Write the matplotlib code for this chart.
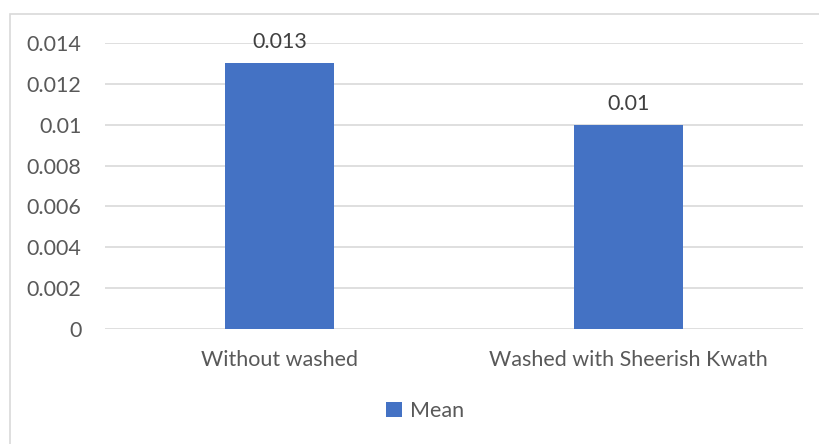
import matplotlib.pyplot as plt
from matplotlib.patches import Rectangle

categories = ['Without washed', 'Washed with Sheerish Kwath']
mean_values = [0.013, 0.01]
value_labels = ['0.013', '0.01']
y_ticks = [0, 0.002, 0.004, 0.006, 0.008, 0.01, 0.012, 0.014]
y_tick_labels = ['0', '0.002', '0.004', '0.006', '0.008', '0.01', '0.012', '0.014']

bar_color = '#4472c4'
text_color = '#595959'
grid_color = '#d9d9d9'
fs = 15.5

plt.rcParams['font.family'] = ['Lato', 'DejaVu Sans']

fig = plt.figure(figsize=(8.19, 4.44), dpi=100)
# chart border, only top and left edges fall inside the image
fig.patches.append(Rectangle((10 / 819, -0.1), 1.2, 1.1 - 14 / 444,
                             transform=fig.transFigure, fill=False,
                             edgecolor=grid_color, linewidth=1.2))

ax = fig.add_axes([105 / 819, 1 - 329 / 444, 698 / 819, 286 / 444])
x = range(len(categories))
bars = ax.bar(x, mean_values, width=0.312, color=bar_color, label='Mean', zorder=3)

for b, lab in zip(bars, value_labels):
    ax.annotate(lab, (b.get_x() + b.get_width() / 2, b.get_height()),
                xytext=(0, 8), textcoords='offset points',
                ha='center', va='bottom', fontsize=fs, color='#404040')

ax.set_xlim(-0.5, 1.5)
ax.set_ylim(0, 0.014)
ax.set_yticks(y_ticks)
ax.set_yticklabels(y_tick_labels)
ax.set_xticks(list(x))
ax.set_xticklabels(categories)
ax.tick_params(axis='both', length=0, labelsize=fs, colors=text_color)
ax.tick_params(axis='y', pad=17)
ax.tick_params(axis='x', pad=15)
ax.yaxis.grid(True, color=grid_color, linewidth=1.2, zorder=0)
for s in ax.spines.values():
    s.set_visible(False)

fig.legend(loc='center', bbox_to_anchor=(425 / 819, 1 - 411 / 444), frameon=False,
           fontsize=fs, handlelength=0.75, handleheight=0.75, handletextpad=0.4,
           labelcolor=text_color)

fig.savefig('out.png', dpi=100)
